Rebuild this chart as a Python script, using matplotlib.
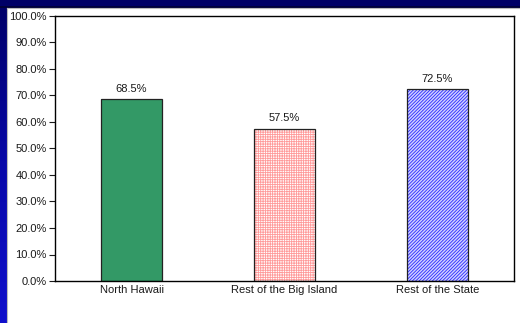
import matplotlib
matplotlib.use("Agg")
import matplotlib.pyplot as plt
import numpy as np
from matplotlib.ticker import PercentFormatter
from matplotlib.colors import LinearSegmentedColormap

categories = ["North Hawaii", "Rest of the Big Island", "Rest of the State"]
values = [68.5, 57.5, 72.5]
face_colors = ["#339966", "white", "#d0d0ff"]
hatch_colors = [None, "#ff9a9a", "#2828ff"]
hatches = [None, "+++++++", "//////////"]

plt.rcParams['font.family'] = ['Liberation Sans', 'DejaVu Sans']
plt.rcParams['hatch.linewidth'] = 0.6

fig = plt.figure(figsize=(5.2, 3.23), dpi=100)

# blue gradient background
bg = fig.add_axes([0, 0, 1, 1])
grad = np.linspace(0, 1, 256).reshape(-1, 1)
cmap = LinearSegmentedColormap.from_list("bg", ["#000066", "#0808a8", "#1010cc"])
bg.imshow(grad, aspect="auto", cmap=cmap, extent=[0, 1, 0, 1], origin="upper")
bg.axhline(1 - 7 / 323, color="#000033", lw=1.2)
bg.set_xlim(0, 1)
bg.set_ylim(0, 1)
bg.axis("off")

# white panel
panel = fig.add_axes([7 / 520, 0, 1 - 7 / 520, (323 - 8) / 323])
panel.set_facecolor("white")
panel.set_xticks([])
panel.set_yticks([])
for s in panel.spines.values():
    s.set_visible(False)
panel.spines["top"].set_visible(True)
panel.spines["top"].set_color("#bbbbbb")
panel.spines["left"].set_visible(True)
panel.spines["left"].set_color("#bbbbbb")

ax = fig.add_axes([55 / 520, (323 - 281) / 323, 459 / 520, 265 / 323])
ax.set_facecolor("none")
x = np.arange(len(categories))

for i in range(len(categories)):
    if hatches[i]:
        ax.bar(x[i], values[i], width=0.4, color=face_colors[i],
               edgecolor=hatch_colors[i], hatch=hatches[i], linewidth=0)
    else:
        ax.bar(x[i], values[i], width=0.4, color=face_colors[i], linewidth=0)
    ax.bar(x[i], values[i], width=0.4, fill=False, edgecolor="#222222", linewidth=0.9)
    ax.text(x[i], values[i] + 2, "%.1f%%" % values[i], ha="center", va="bottom",
            fontsize=8, color="#1a1a1a")

ax.set_xlim(-0.5, 2.5)
ax.set_ylim(0, 100)
ax.set_yticks(np.arange(0, 101, 10))
ax.yaxis.set_major_formatter(PercentFormatter(decimals=1))
ax.set_xticks(x)
ax.set_xticklabels(categories)
ax.tick_params(axis="x", length=0, labelsize=8, pad=3, colors="#1a1a1a")
ax.tick_params(axis="y", length=4, width=0.8, labelsize=8, pad=2, colors="#1a1a1a")
for s in ax.spines.values():
    s.set_color("black")
    s.set_linewidth(1.0)

fig.savefig("out.png", dpi=100)
